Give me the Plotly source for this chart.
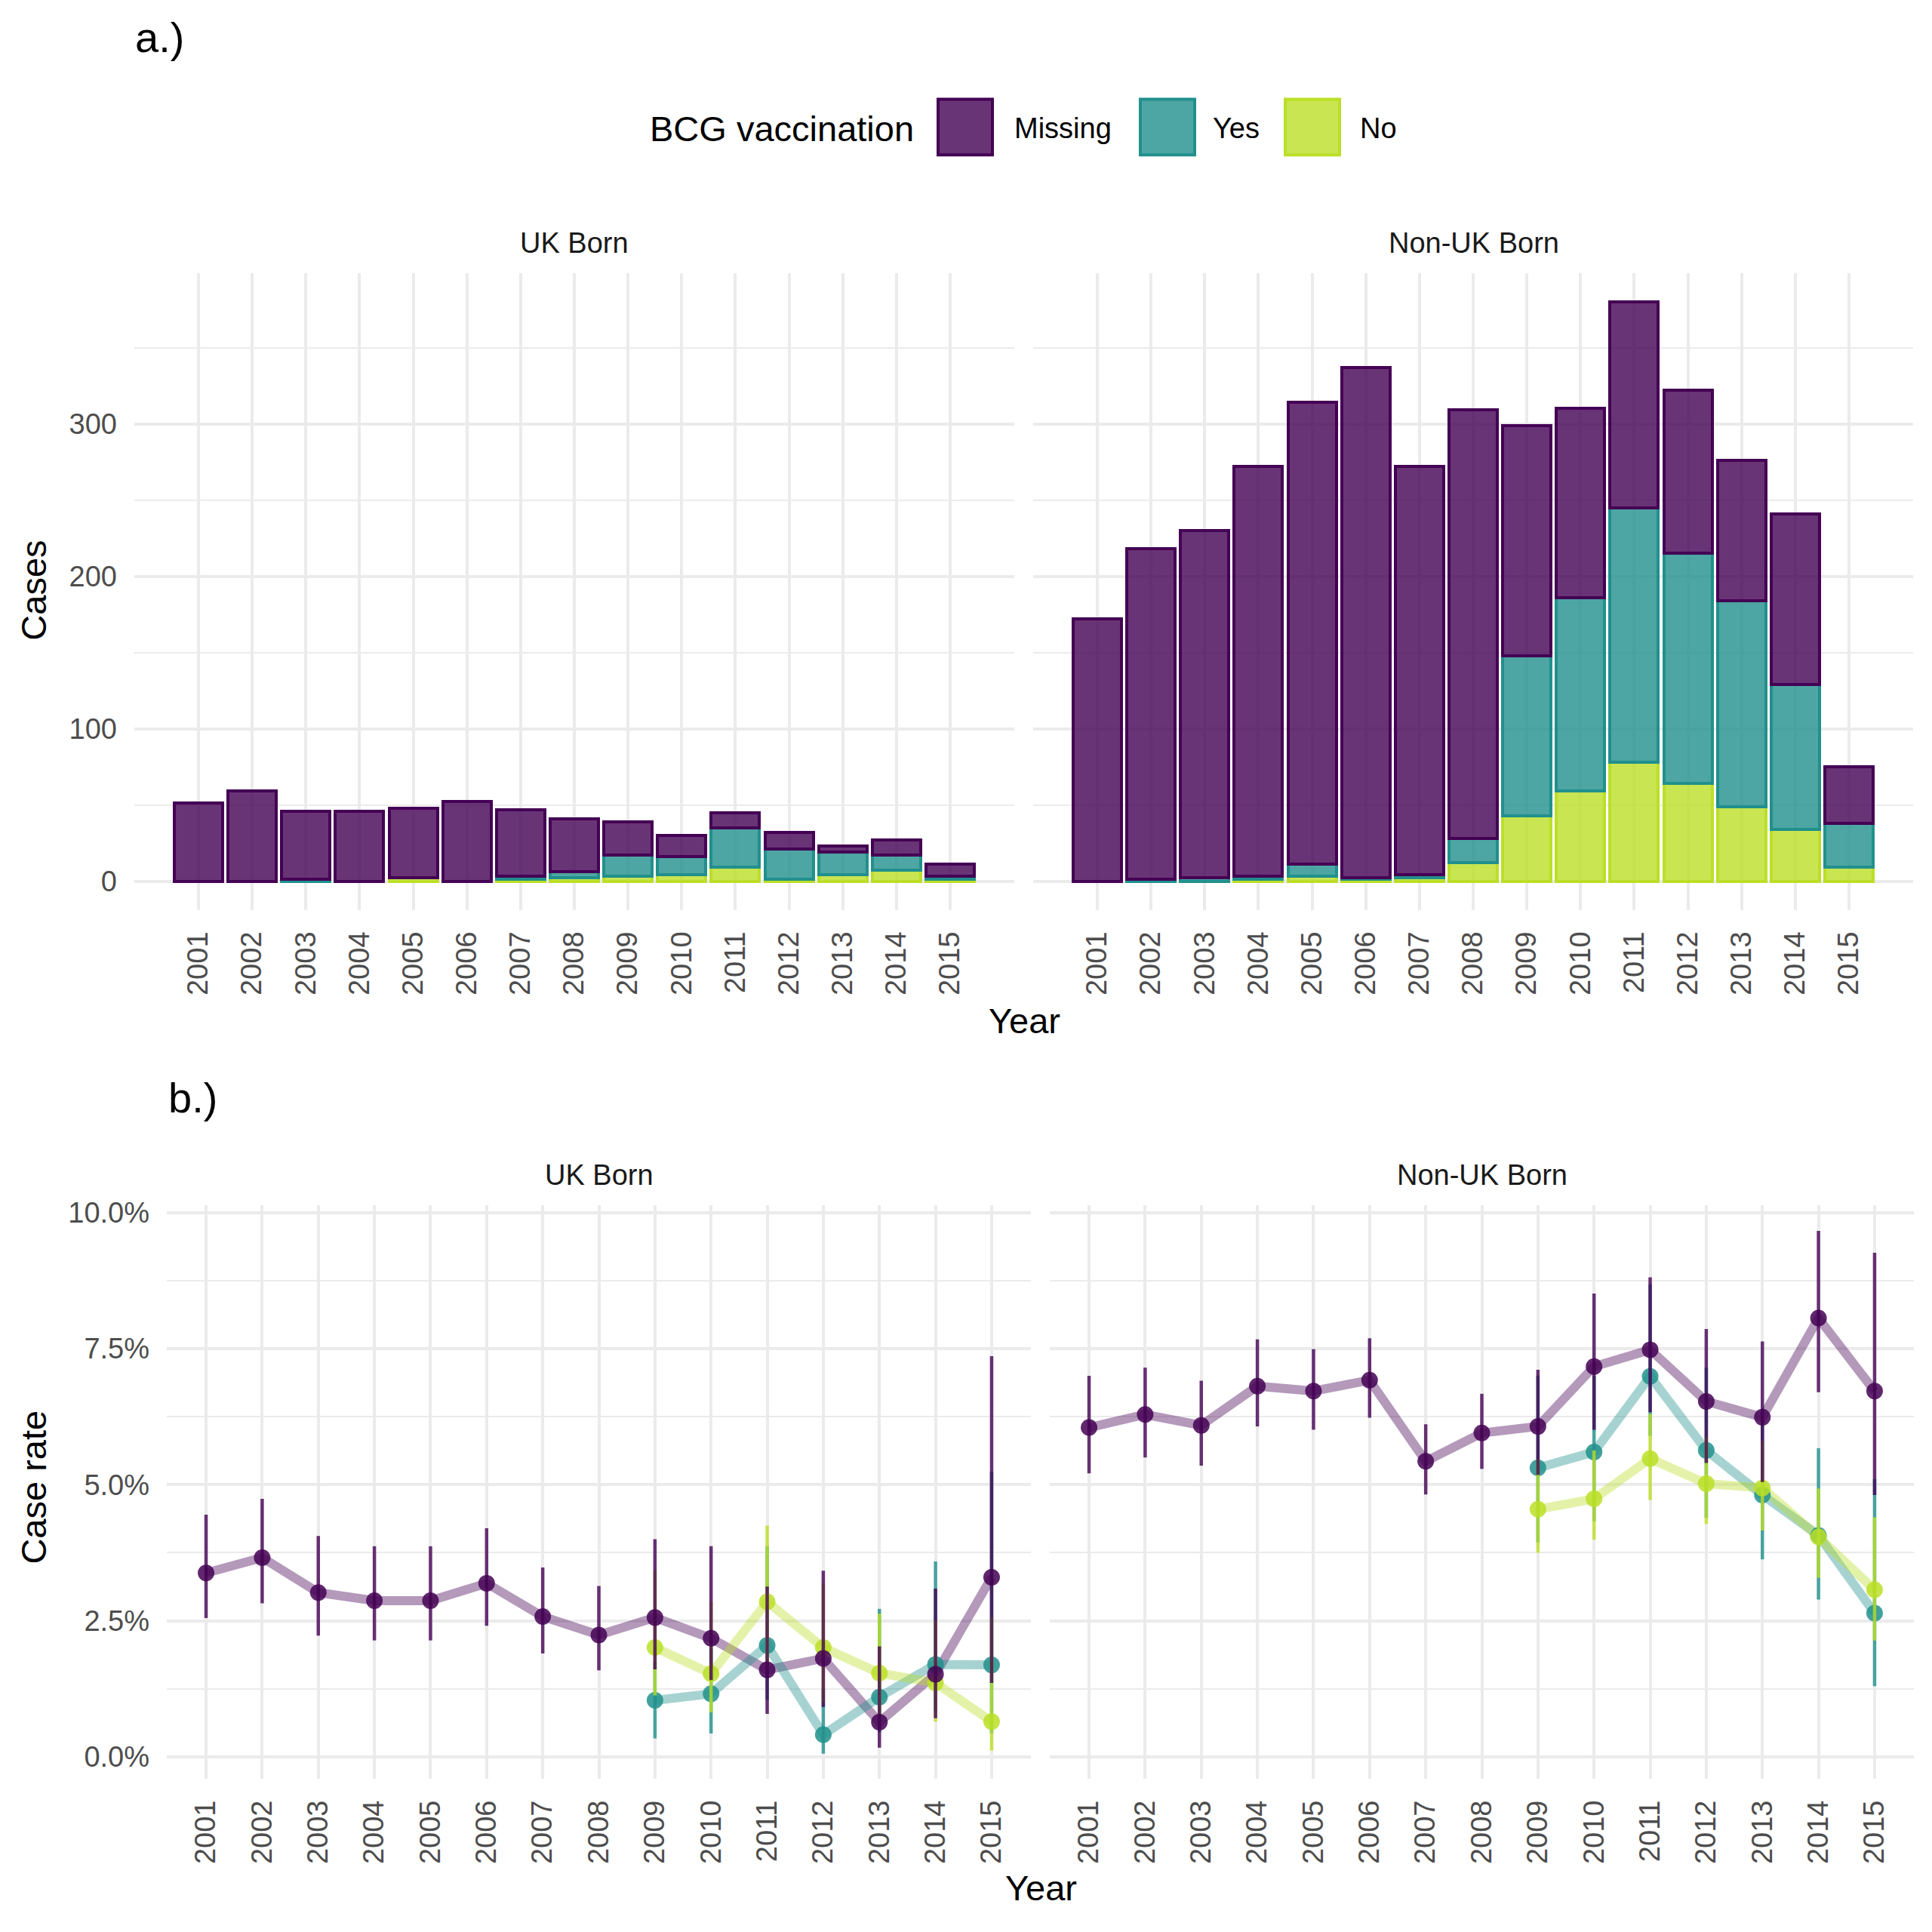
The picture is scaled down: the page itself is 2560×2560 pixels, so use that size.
import plotly.graph_objects as go

# ---------------- data ----------------
years = [2001, 2002, 2003, 2004, 2005, 2006, 2007, 2008, 2009, 2010, 2011, 2012, 2013, 2014, 2015]

# a.) case counts, stacked (No bottom, Yes middle, Missing top)
uk_no      = [0, 0, 0, 0, 2, 0, 1, 2, 3, 4, 9, 1, 4, 7, 1]
uk_yes     = [0, 0, 1, 0, 0, 0, 2, 4, 14, 12, 26, 20, 15, 10, 2]
uk_missing = [51, 59, 45, 46, 46, 52, 44, 35, 22, 14, 10, 11, 4, 10, 8]

nonuk_no      = [0, 0, 0, 1, 3, 1, 2, 12, 43, 59, 78, 64, 49, 34, 9]
nonuk_yes     = [0, 1, 2, 2, 8, 1, 2, 16, 105, 127, 167, 151, 135, 95, 29]
nonuk_missing = [172, 217, 228, 269, 303, 335, 268, 281, 151, 124, 135, 107, 92, 112, 37]

# b.) case rates (%) with intervals
years_bcg = [2009, 2010, 2011, 2012, 2013, 2014, 2015]

uk_rate_missing = [3.38, 3.66, 3.02, 2.87, 2.87, 3.19, 2.58, 2.24, 2.56, 2.18, 1.60, 1.81, 0.64, 1.52, 3.30]
uk_hi_missing   = [4.45, 4.74, 4.06, 3.87, 3.87, 4.20, 3.48, 3.14, 4.00, 3.87, 3.13, 3.42, 2.03, 3.09, 7.36]
uk_lo_missing   = [2.55, 2.82, 2.23, 2.14, 2.14, 2.41, 1.90, 1.59, 1.61, 1.41, 0.79, 0.92, 0.17, 0.71, 1.36]

uk_rate_yes = [1.04, 1.16, 2.05, 0.41, 1.10, 1.70, 1.69]
uk_hi_yes   = [1.75, 2.00, 3.87, 1.25, 2.72, 3.59, 5.24]
uk_lo_yes   = [0.34, 0.43, 1.05, 0.06, 0.45, 0.85, 0.43]

uk_rate_no = [2.01, 1.53, 2.85, 2.01, 1.54, 1.36, 0.65]
uk_hi_no   = [3.42, 2.85, 4.25, 3.19, 2.63, 2.51, 2.57]
uk_lo_no   = [1.13, 0.82, 1.60, 1.00, 0.70, 0.65, 0.12]

nonuk_rate_missing = [6.05, 6.29, 6.09, 6.81, 6.72, 6.92, 5.43, 5.95, 6.07, 7.17, 7.48, 6.53, 6.24, 8.06, 6.72]
nonuk_hi_missing   = [7.00, 7.15, 6.91, 7.67, 7.49, 7.69, 6.11, 6.67, 7.11, 8.51, 8.81, 7.86, 7.63, 9.66, 9.26]
nonuk_lo_missing   = [5.21, 5.50, 5.35, 6.07, 6.01, 6.23, 4.82, 5.29, 5.18, 6.01, 6.33, 5.40, 5.05, 6.70, 4.81]

nonuk_rate_yes = [5.31, 5.60, 6.99, 5.63, 4.81, 4.07, 2.64]
nonuk_hi_yes   = [7.00, 7.00, 8.68, 7.15, 6.16, 5.67, 5.10]
nonuk_lo_yes   = [3.94, 4.33, 5.90, 4.39, 3.63, 2.89, 1.30]

nonuk_rate_no = [4.55, 4.74, 5.48, 5.02, 4.94, 4.04, 3.07]
nonuk_hi_no   = [5.47, 5.63, 6.30, 5.87, 5.81, 4.93, 4.40]
nonuk_lo_no   = [3.75, 3.99, 4.72, 4.28, 4.16, 3.29, 2.14]

group_names = ["Missing", "Yes", "No"]
tick_years = [str(y) for y in years]

# ---------------- styling ----------------
W = 2560
OFF = 8  # page body margin compensation
FONT = "Liberation Sans, Arial, Helvetica, sans-serif"
COL = {"Missing": "#440154", "Yes": "#21908C", "No": "#BBDF27"}


def rgba(hexc, a):
    h = hexc.lstrip("#")
    r, g, b = int(h[0:2], 16), int(h[2:4], 16), int(h[4:6], 16)
    return f"rgba({r},{g},{b},{a})"


def px(v):
    return (v - OFF) / W


def py(v):
    return 1 - (v - OFF) / W


fig = go.Figure()

# ---------------- a.) stacked bars ----------------
bar_sets = [
    ("x", "y", {"No": uk_no, "Yes": uk_yes, "Missing": uk_missing}),
    ("x2", "y2", {"No": nonuk_no, "Yes": nonuk_yes, "Missing": nonuk_missing}),
]
for xa, ya, d in bar_sets:
    for g in ["No", "Yes", "Missing"]:
        fig.add_trace(go.Bar(
            x=years, y=d[g], width=0.9, xaxis=xa, yaxis=ya, name=g, showlegend=False,
            marker=dict(color=rgba(COL[g], 0.8), line=dict(color=COL[g], width=4)),
        ))

# ---------------- b.) rates ----------------
rate_sets = [
    ("x3", "y3", [
        ("Missing", years, uk_rate_missing, uk_lo_missing, uk_hi_missing),
        ("Yes", years_bcg, uk_rate_yes, uk_lo_yes, uk_hi_yes),
        ("No", years_bcg, uk_rate_no, uk_lo_no, uk_hi_no),
    ]),
    ("x4", "y4", [
        ("Missing", years, nonuk_rate_missing, nonuk_lo_missing, nonuk_hi_missing),
        ("Yes", years_bcg, nonuk_rate_yes, nonuk_lo_yes, nonuk_hi_yes),
        ("No", years_bcg, nonuk_rate_no, nonuk_lo_no, nonuk_hi_no),
    ]),
]
for xa, ya, series in rate_sets:
    for g, xs, r, lo, hi in series:
        fig.add_trace(go.Scatter(
            x=xs, y=r, mode="lines", xaxis=xa, yaxis=ya, showlegend=False,
            line=dict(color=rgba(COL[g], 0.4), width=12),
        ))
    for g, xs, r, lo, hi in [series[1], series[2], series[0]]:
        fig.add_trace(go.Scatter(
            x=xs, y=r, mode="markers", xaxis=xa, yaxis=ya, showlegend=False,
            marker=dict(color=rgba(COL[g], 0.85), size=22, line=dict(width=0)),
            error_y=dict(type="data", symmetric=False,
                         array=[h - v for h, v in zip(hi, r)],
                         arrayminus=[v - l for v, l in zip(r, lo)],
                         color=rgba(COL[g], 0.8), thickness=4.5, width=0),
        ))

# ---------------- axes ----------------
tickfont = dict(family=FONT, size=38, color="#4D4D4D")
grid = dict(showgrid=True, gridcolor="#EBEBEB", gridwidth=4, zeroline=False,
            showline=False, ticks="")

xcommon = dict(tickmode="array", tickvals=years, ticktext=tick_years, tickangle=-90,
               tickfont=tickfont, ticklabelstandoff=20, **grid)

top_dom = [py(1200), py(352)]
bot_dom = [py(2356), py(1593)]

minor_top = dict(tickmode="array", tickvals=[50, 150, 250, 350], showgrid=True,
                 gridcolor="#EBEBEB", gridwidth=2.4, ticks="")
minor_bot = dict(tickmode="array", tickvals=[1.25, 3.75, 6.25, 8.75], showgrid=True,
                 gridcolor="#EBEBEB", gridwidth=2.4, ticks="")

fig.update_layout(
    xaxis=dict(domain=[px(178), px(1344)], anchor="y", range=[1999.805, 2016.195], **xcommon),
    xaxis2=dict(domain=[px(1369), px(2535)], anchor="y2", range=[1999.805, 2016.195], **xcommon),
    xaxis3=dict(domain=[px(221), px(1366)], anchor="y3", range=[2000.3, 2015.7], **xcommon),
    xaxis4=dict(domain=[px(1391), px(2536)], anchor="y4", range=[2000.3, 2015.7], **xcommon),
    yaxis=dict(domain=top_dom, anchor="x", range=[-19, 399], tickmode="array",
               tickvals=[0, 100, 200, 300], tickfont=tickfont, ticklabelstandoff=22,
               minor=minor_top, **grid),
    yaxis2=dict(domain=top_dom, anchor="x2", range=[-19, 399], tickmode="array",
                tickvals=[0, 100, 200, 300], showticklabels=False, minor=minor_top, **grid),
    yaxis3=dict(domain=bot_dom, anchor="x3", range=[-0.40, 10.13], tickmode="array",
                tickvals=[0, 2.5, 5, 7.5, 10], ticktext=["0.0%", "2.5%", "5.0%", "7.5%", "10.0%"],
                tickfont=tickfont, ticklabelstandoff=22, minor=minor_bot, **grid),
    yaxis4=dict(domain=bot_dom, anchor="x4", range=[-0.40, 10.13], tickmode="array",
                tickvals=[0, 2.5, 5, 7.5, 10], showticklabels=False, minor=minor_bot, **grid),
    barmode="stack",
    width=W, height=W,
    margin=dict(l=0, r=0, t=0, b=0),
    paper_bgcolor="white", plot_bgcolor="white",
    showlegend=False,
    font=dict(family=FONT),
)

# ---------------- text ----------------
ann = []


def text(x, y, s, size, color="black", xanchor="center", yanchor="middle", angle=0):
    ann.append(dict(x=px(x), y=py(y), xref="paper", yref="paper", text=s, showarrow=False,
                    xanchor=xanchor, yanchor=yanchor, textangle=angle,
                    font=dict(family=FONT, size=size, color=color)))


text(177, 39, "a.)", 56, xanchor="left")
text(221, 1450, "b.)", 56, xanchor="left")

# facet strips
text(761, 312, "UK Born", 38, color="#1A1A1A")
text(1953, 312, "Non-UK Born", 38, color="#1A1A1A")
text(794, 1553, "UK Born", 38, color="#1A1A1A")
text(1964, 1553, "Non-UK Born", 38, color="#1A1A1A")

# axis titles
text(45, 775, "Cases", 47, angle=-90)
text(45, 1968, "Case rate", 47, angle=-90)
text(1357, 1347, "Year", 47)
text(1379, 2501, "Year", 47)

# legend
text(859, 160, "BCG vaccination", 47, xanchor="left")
legend_keys = [("Missing", 1243, 1342), ("Yes", 1511, 1605), ("No", 1703, 1800)]
shapes = []
for g, kx, lx in legend_keys:
    shapes.append(dict(type="rect", xref="paper", yref="paper",
                       x0=px(kx), x1=px(kx + 72), y0=py(195), y1=py(121),
                       fillcolor=rgba(COL[g], 0.8), line=dict(color=COL[g], width=4)))
    text(lx, 160, g, 38, xanchor="left")

fig.update_layout(annotations=ann, shapes=shapes)

fig.write_html("out.html")
